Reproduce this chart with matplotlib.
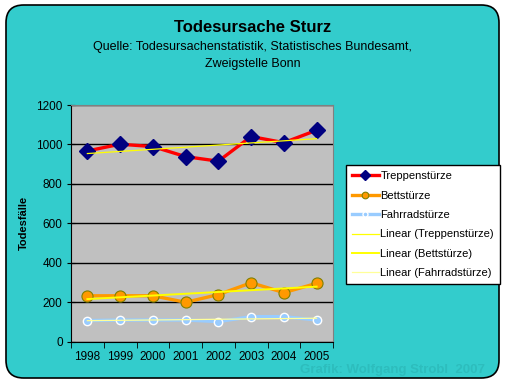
import numpy as np
import matplotlib
matplotlib.use("Agg")
import matplotlib.pyplot as plt
from matplotlib.patches import FancyBboxPatch

plt.rcParams['font.family'] = ['Liberation Sans', 'DejaVu Sans']

years = ['1998', '1999', '2000', '2001', '2002', '2003', '2004', '2005']
treppen = [967, 1001, 989, 938, 915, 1040, 1009, 1072]
bett = [232, 232, 232, 199, 238, 298, 248, 295]
fahrrad = [106, 109, 109, 109, 101, 126, 126, 109]

fig = plt.figure(figsize=(5.05, 3.83), dpi=100)
fig.patch.set_facecolor('white')

# rounded teal background
bg = FancyBboxPatch((6 / 505, 5 / 383), 493 / 505, 373 / 383,
                    boxstyle="round,pad=0,rounding_size=0.035",
                    transform=fig.transFigure, facecolor='#33CCCC',
                    edgecolor='black', linewidth=1.2, mutation_aspect=505 / 383,
                    zorder=-10)
fig.patches.append(bg)

ax = fig.add_axes([71 / 505, 1 - 341.5 / 383, 262 / 505, 236.5 / 383])
ax.set_facecolor('#C0C0C0')
x = np.arange(len(years))

ax.plot(x, treppen, color='red', lw=2.4, marker='D', ms=8,
        mfc='#000080', mec='#000080', label='Treppenstürze', zorder=3)
ax.plot(x, bett, color='#FF9900', lw=2.4, marker='o', ms=8,
        mfc='#FF9900', mec='#808000', mew=0.8, label='Bettstürze', zorder=3)
ax.plot(x, fahrrad, color='#99CCFF', lw=2.4, marker='o', ms=6,
        mfc='#99CCFF', mec='white', mew=1, label='Fahrradstürze', zorder=3)

trend_styles = [(treppen, '#FFFF00', 0.9, 'Linear (Treppenstürze)'),
                (bett, '#FFFF00', 1.4, 'Linear (Bettstürze)'),
                (fahrrad, '#FFFF99', 0.9, 'Linear (Fahrradstürze)')]
for vals, c, w, lab in trend_styles:
    k, d = np.polyfit(x, vals, 1)
    ax.plot(x, k * x + d, color=c, lw=w, label=lab, zorder=4)

ax.set_xlim(-0.5, 7.5)
ax.set_ylim(0, 1200)
ax.set_yticks(range(0, 1201, 200))
ax.set_xticks(x)
ax.set_xticklabels(years)
ax.set_xticks(np.arange(-0.5, 8, 1), minor=True)
ax.tick_params(axis='x', which='major', length=0, labelsize=8.5, pad=7)
ax.tick_params(axis='x', which='minor', length=4, direction='out')
ax.tick_params(axis='y', length=6, direction='inout', labelsize=8.5, pad=3)
ax.grid(axis='y', color='black', lw=1)
ax.set_axisbelow(True)
for s in ['top', 'right']:
    ax.spines[s].set_color('#808080')
ax.spines['left'].set_color('black')
ax.spines['bottom'].set_color('black')
ax.set_ylabel('Todesfälle', fontsize=8, fontweight='bold', labelpad=5)

leg = fig.legend(loc='upper left', bbox_to_anchor=(346 / 505, 1 - 165 / 383),
                 fontsize=8, frameon=True, fancybox=False, borderaxespad=0,
                 handlelength=2.4, labelspacing=0.85, borderpad=0.55,
                 handletextpad=0.15, markerscale=0.6, framealpha=1)
leg.get_frame().set_edgecolor('black')
leg.get_frame().set_linewidth(1)

fig.text(0.5, 1 - 27 / 383, 'Todesursache Sturz', ha='center', va='center',
         fontsize=12, fontweight='bold')
fig.text(0.5, 1 - 47 / 383, 'Quelle: Todesursachenstatistik, Statistisches Bundesamt,',
         ha='center', va='center', fontsize=9)
fig.text(0.5, 1 - 64 / 383, 'Zweigstelle Bonn', ha='center', va='center', fontsize=9)
fig.text(393 / 505, 1 - 370.5 / 383, 'Grafik: Wolfgang Strobl  2007', ha='center',
         va='center', fontsize=9.5, fontweight='bold', color='#2DBDBD')

fig.savefig('out.png', dpi=100)
